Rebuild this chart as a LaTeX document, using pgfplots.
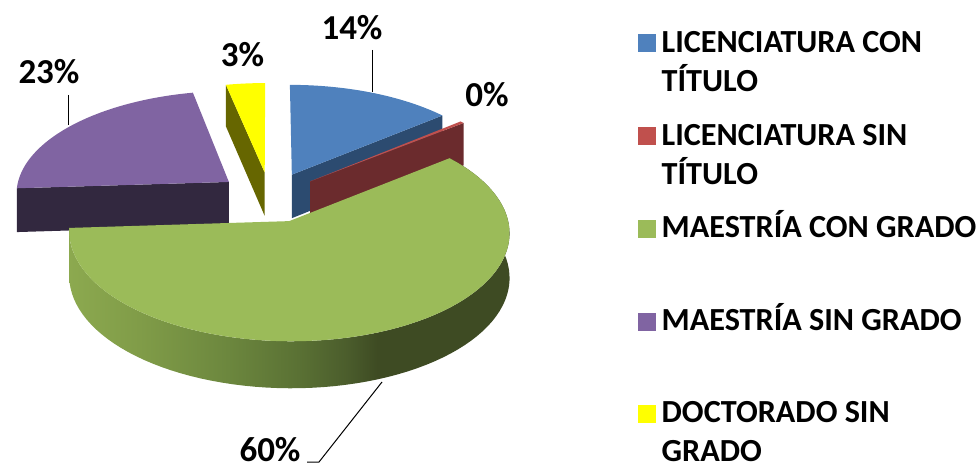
\documentclass[border=0pt]{standalone}
\usepackage{fontspec}
\setmainfont{Carlito}
\usepackage{pgfplots}
\pgfplotsset{compat=1.18}

\definecolor{cBlue}{HTML}{4F81BD}
\definecolor{cBlueS}{HTML}{2C4B70}
\definecolor{cRed}{HTML}{C0504D}
\definecolor{cRedS}{HTML}{6B2B2D}
\definecolor{cGreen}{HTML}{9BBB59}
\definecolor{cPurple}{HTML}{8064A2}
\definecolor{cPurpleS}{HTML}{32283F}
\definecolor{cYellow}{HTML}{FFFF00}
\definecolor{cYellowS}{HTML}{666600}
\definecolor{gwA}{HTML}{8CA94F}
\definecolor{gwB}{HTML}{809C48}
\definecolor{gwC}{HTML}{6C873E}
\definecolor{gwD}{HTML}{5A7134}
\definecolor{gwE}{HTML}{4B5D2C}
\definecolor{gwF}{HTML}{3E4B23}
\pgfdeclarehorizontalshading{greenwall}{100bp}{color(0bp)=(gwA); color(25bp)=(gwA); color(33bp)=(gwB); color(43bp)=(gwC); color(51bp)=(gwD); color(56.5bp)=(gwE); color(60bp)=(gwF); color(100bp)=(gwF)}

% shares (per cent) of the five categories
\def\vBlue{14.0}   % LICENCIATURA CON TITULO  (14%)
\def\vRed{0.35}    % LICENCIATURA SIN TITULO  (0%)
\def\vGreen{59.65} % MAESTRIA CON GRADO       (60%)
\def\vPurple{22.7} % MAESTRIA SIN GRADO       (23%)
\def\vYellow{3.3}  % DOCTORADO SIN GRADO      (3%)

\pgfmathsetmacro{\aA}{0}
\pgfmathsetmacro{\aB}{\aA+3.6*\vBlue}
\pgfmathsetmacro{\aC}{\aB+3.6*\vRed}
\pgfmathsetmacro{\aD}{\aC+3.6*\vGreen}
\pgfmathsetmacro{\aE}{\aD+3.6*\vPurple}
\pgfmathsetmacro{\aF}{\aE+3.6*\vYellow}
\pgfmathsetmacro{\mA}{(\aA+\aB)/2}
\pgfmathsetmacro{\mB}{(\aB+\aC)/2}
\pgfmathsetmacro{\mC}{(\aC+\aD)/2}
\pgfmathsetmacro{\mD}{(\aD+\aE)/2}
\pgfmathsetmacro{\mE}{(\aE+\aF)/2}

\newcommand{\lgd}{\fontsize{32.2}{38.2}\selectfont\bfseries}
\newcommand{\lbl}{\fontsize{35}{42}\selectfont\bfseries}

% top face of a slice: colour, start, end, mid angle
\newcommand{\topface}[4]{%
\addplot[forget plot, draw=none, fill=#1, domain=0:3, samples=181, variable=\t]
 ({piex(min(min(\t,1),3-\t), #2+(#3-#2)*min(max(\t-1,0),1), #4)},
  {piey(min(min(\t,1),3-\t), #2+(#3-#2)*min(max(\t-1,0),1), #4, 0)});}
% radial side face: colour, angle, mid angle
\newcommand{\radial}[3]{%
\addplot[forget plot, draw=none, fill=#1, domain=0:3, samples=4, variable=\t]
 ({piex(min(min(\t,1),3-\t), #2, #3)},
  {piey(min(min(\t,1),3-\t), #2, #3, min(max(\t-1,0),1))});}
% outer wall: style, from, to, mid angle
\newcommand{\wall}[4]{%
\addplot[forget plot, draw=none, #1, domain=0:3, samples=241, variable=\t]
 ({piex(1, #2+(#3-#2)*min(min(\t,1),3-\t), #4)},
  {piey(1, #2+(#3-#2)*min(min(\t,1),3-\t), #4, min(max(\t-1,0),1))});}

\begin{document}
\begin{tikzpicture}
\begin{axis}[
  x=1pt, y=1pt, xmin=0, xmax=979, ymin=0, ymax=470,
  y dir=reverse, clip=false,
  axis line style={draw=none}, xtick=\empty, ytick=\empty,
  declare function={
    pieu(\Rad,\Ang,\Mid)=0.245*sin(\Mid)+\Rad*sin(\Ang);
    piev(\Rad,\Ang,\Mid)=0.245*cos(\Mid)+\Rad*cos(\Ang);
    piew(\Rad,\Ang,\Mid)=1+0.1*piev(\Rad,\Ang,\Mid);
    piex(\Rad,\Ang,\Mid)=270+214*pieu(\Rad,\Ang,\Mid)/piew(\Rad,\Ang,\Mid);
    piey(\Rad,\Ang,\Mid,\Dep)=197-103*piev(\Rad,\Ang,\Mid)/piew(\Rad,\Ang,\Mid)+\Dep*44/sqrt(piew(\Rad,\Ang,\Mid));
  },
  legend image code/.code={\fill[#1] (0pt,0pt) rectangle (18pt,18pt);},
  legend style={at={(axis cs:638,25.5)}, anchor=north west, draw=none, fill=none,
    inner sep=0pt, row sep=0pt, column sep=5.5pt, overlay, font=\lgd,
    nodes={inner sep=0pt, text depth=}, cells={anchor=base west}},
]
% yellow
\radial{cYellowS}{\aE}{\mE}
\topface{cYellow}{\aE}{\aF}{\mE}
% blue
\radial{cBlueS}{\aB}{\mA}
\topface{cBlue}{\aA}{\aB}{\mA}
% red
\radial{cRedS}{\aC}{\mB}
\topface{cRed}{\aB}{\aC}{\mB}
% purple
\radial{cPurpleS}{\aD}{\mD}
\topface{cPurple}{\aD}{\aE}{\mD}
% green
\wall{shade, shading=greenwall}{\aC}{\aD}{\mC}
\topface{cGreen}{\aC}{\aD}{\mC}

% leader lines
\addplot[forget plot, black, line width=1pt] coordinates {(372,50) (372,92)};
\addplot[forget plot, black, line width=1pt] coordinates {(68,95) (68,125)};
\addplot[forget plot, black, line width=1pt] coordinates {(307,462) (319,462) (382,382)};

\node[font=\lbl, anchor=base, inner sep=0pt] at (axis cs:352,40) {14\%};
\node[font=\lbl, anchor=base, inner sep=0pt] at (axis cs:487,107) {0\%};
\node[font=\lbl, anchor=base, inner sep=0pt] at (axis cs:49,83.5) {23\%};
\node[font=\lbl, anchor=base, inner sep=0pt] at (axis cs:242.5,66.5) {3\%};
\node[font=\lbl, anchor=base, inner sep=0pt] at (axis cs:270,461.5) {60\%};

\addlegendimage{fill=cBlue, draw=none}
\addlegendentry{\parbox[t][92.6pt][t]{330pt}{\strut LICENCIATURA CON\\TÍTULO}}
\addlegendimage{fill=cRed, draw=none}
\addlegendentry{\parbox[t][92.6pt][t]{330pt}{\strut LICENCIATURA SIN\\TÍTULO}}
\addlegendimage{fill=cGreen, draw=none}
\addlegendentry{\parbox[t][92.6pt][t]{330pt}{\strut MAESTRÍA CON GRADO}}
\addlegendimage{fill=cPurple, draw=none}
\addlegendentry{\parbox[t][92.6pt][t]{330pt}{\strut MAESTRÍA SIN GRADO}}
\addlegendimage{fill=cYellow, draw=none}
\addlegendentry{\parbox[t]{330pt}{\strut DOCTORADO SIN\\GRADO}}
\end{axis}
\end{tikzpicture}
\end{document}
